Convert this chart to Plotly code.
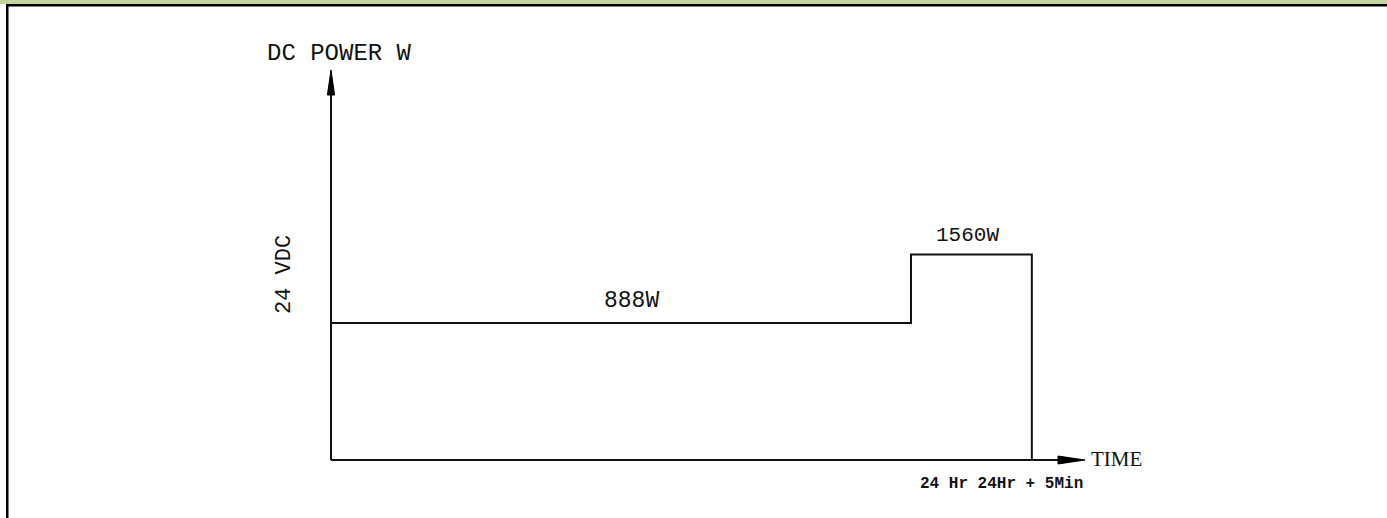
import plotly.graph_objects as go

# ---- data (schematic power profile) ----
step_times = [0, 24, 29]            # start, 24 Hr, 24Hr + 5Min (drawn not to scale)
power_w = [888, 1560]               # power level labels (W)
level_height = [1.0, 1.5]           # drawn heights of the two levels (schematic)
y_axis_title = "DC POWER W"
x_axis_title = "TIME"
voltage_label = "24 VDC"
end_time_label = "24 Hr 24Hr + 5Min"

# ---- geometry of the drawing frame ----
W, H = 1387, 518
px_x0, px_y0 = 331, 460             # pixel position of the origin
px_per_x = 580 / 24
px_per_y = 137
x_range = [-px_x0 / px_per_x, (W - px_x0) / px_per_x]
y_range = [-(H - px_y0) / px_per_y, px_y0 / px_per_y]
x_axis_end = (1085 - px_x0) / px_per_x
y_axis_end = (px_y0 - 70) / px_per_y

fig = go.Figure()

# step line built from the data
sx, sy = [step_times[0]], [0]
for i, lvl in enumerate(level_height):
    sx += [step_times[i], step_times[i + 1]]
    sy += [lvl, lvl]
sx.append(step_times[-1])
sy.append(0)
fig.add_trace(go.Scatter(x=sx, y=sy, mode="lines",
                         line=dict(color="#111111", width=2), hoverinfo="skip"))

# axes
ah_len_x = 27 / px_per_x
ah_half_y = 4 / px_per_y
ah_len_y = 25 / px_per_y
ah_half_x = 3.6 / px_per_x
fig.add_trace(go.Scatter(x=[0, x_axis_end - ah_len_x], y=[0, 0], mode="lines",
                         line=dict(color="#111111", width=2), hoverinfo="skip"))
fig.add_trace(go.Scatter(x=[0, 0], y=[0, y_axis_end - ah_len_y], mode="lines",
                         line=dict(color="#111111", width=2), hoverinfo="skip"))
fig.add_trace(go.Scatter(
    x=[x_axis_end - ah_len_x, x_axis_end, x_axis_end - ah_len_x, x_axis_end - ah_len_x],
    y=[ah_half_y, 0, -ah_half_y, ah_half_y], mode="lines", fill="toself",
    fillcolor="#000000", line=dict(color="#000000", width=1), hoverinfo="skip"))
fig.add_trace(go.Scatter(
    x=[-ah_half_x, 0, ah_half_x, -ah_half_x],
    y=[y_axis_end - ah_len_y, y_axis_end, y_axis_end - ah_len_y, y_axis_end - ah_len_y],
    mode="lines", fill="toself", fillcolor="#000000",
    line=dict(color="#000000", width=1), hoverinfo="skip"))

mono = "Liberation Mono, Courier New, monospace"
serif = "Liberation Serif, Times New Roman, serif"
ann = []
ann.append(dict(x=0, y=y_axis_end, text=y_axis_title, showarrow=False,
                xanchor="center", yanchor="bottom", xshift=8, yshift=1,
                font=dict(family=mono, size=24, color="#111111")))
ann.append(dict(x=x_axis_end, y=0, text=x_axis_title, showarrow=False,
                xanchor="left", yanchor="middle", xshift=4, yshift=1,
                font=dict(family=serif, size=21, color="#111111")))
ann.append(dict(x=0, y=level_height[1] * 0.9, text=voltage_label,
                showarrow=False, textangle=-90, xanchor="center", yanchor="middle",
                xshift=-47, yshift=0,
                font=dict(family=mono, size=22, color="#111111")))
for i, p in enumerate(power_w):
    xm = (step_times[i] + step_times[i + 1]) / 2
    ann.append(dict(x=xm, y=level_height[i], text=f"{p}W", showarrow=False,
                    xanchor="center", yanchor="middle",
                    xshift=10 if i == 0 else -4, yshift=22 if i == 0 else 19,
                    font=dict(family=mono, size=23 if i == 0 else 21, color="#111111")))
ann.append(dict(x=step_times[-1], y=0, text=f"<b>{end_time_label}</b>", showarrow=False,
                xanchor="center", yanchor="middle", xshift=-30, yshift=-24,
                font=dict(family=mono, size=16, color="#111111")))

# frame decorations (table header band + borders)
shapes = [
    dict(type="rect", xref="paper", yref="paper", x0=0, x1=1, y0=1 - 4 / H, y1=1,
         fillcolor="#c4d79b", line=dict(width=0), layer="above"),
    dict(type="rect", xref="paper", yref="paper", x0=6 / W, x1=1, y0=1 - 6.5 / H, y1=1 - 4 / H,
         fillcolor="#000000", line=dict(width=0), layer="above"),
    dict(type="rect", xref="paper", yref="paper", x0=6 / W, x1=8.5 / W, y0=0, y1=1 - 4 / H,
         fillcolor="#000000", line=dict(width=0), layer="above"),
]

fig.update_layout(
    width=W, height=H, margin=dict(l=0, r=0, t=0, b=0),
    paper_bgcolor="white", plot_bgcolor="white", showlegend=False,
    xaxis=dict(range=x_range, visible=False, fixedrange=True),
    yaxis=dict(range=y_range, visible=False, fixedrange=True),
    annotations=ann, shapes=shapes,
)
fig.write_html("out.html", config={"displayModeBar": False},
               post_script="document.body.style.margin='0';document.body.style.overflow='hidden';")
